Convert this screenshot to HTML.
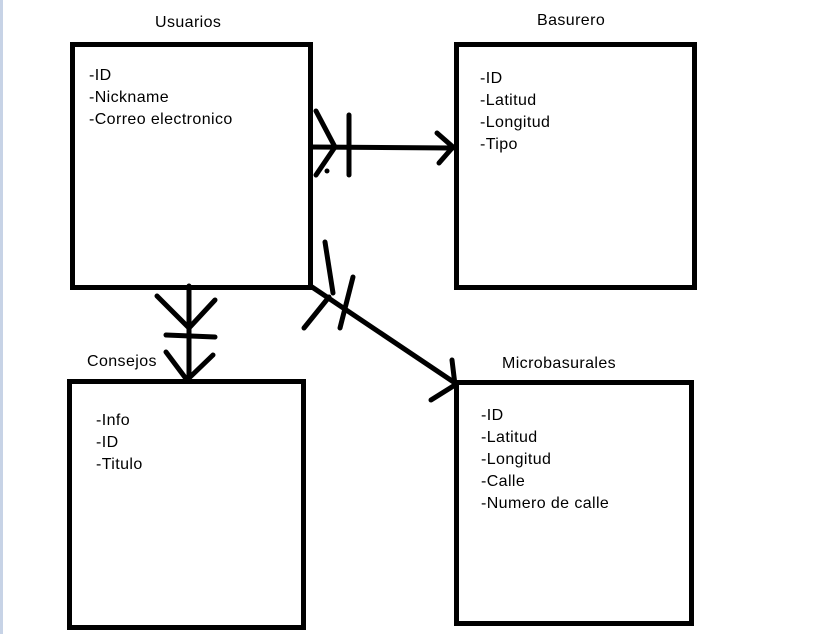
<!DOCTYPE html>
<html><head><meta charset="utf-8"><style>
html,body{margin:0;padding:0;background:#fff;width:817px;height:634px;overflow:hidden}
svg text{font-family:"Liberation Sans",sans-serif;font-size:16px;letter-spacing:0.4px;fill:#000}
</style></head><body>
<svg width="817" height="634" xmlns="http://www.w3.org/2000/svg">
<rect x="0" y="0" width="3" height="634" fill="#c7d3e6"/>
<g fill="none" stroke="#000" stroke-width="5" stroke-linecap="round" stroke-linejoin="round">
<rect x="72.5" y="44.5" width="238" height="243" stroke-linecap="butt" stroke-linejoin="miter"/>
<rect x="456.5" y="44.5" width="238" height="243" stroke-linecap="butt" stroke-linejoin="miter"/>
<rect x="69.5" y="381.5" width="234" height="246" stroke-linecap="butt" stroke-linejoin="miter"/>
<rect x="456.5" y="382.5" width="235" height="241" stroke-linecap="butt" stroke-linejoin="miter"/>
<line x1="311" y1="147" x2="453" y2="148"/>
<polyline points="316,111 335,147 316,175"/>
<line x1="349" y1="115" x2="349" y2="175"/>
<polyline points="437,133 453,147 439,163"/>
<line x1="189" y1="286" x2="189" y2="380"/>
<polyline points="157,296 189,328 215,300"/>
<line x1="166" y1="335" x2="215" y2="337"/>
<polyline points="166,352 187,380 213,355"/>
<line x1="312" y1="287" x2="455" y2="383"/>
<line x1="325" y1="242" x2="333" y2="293"/>
<line x1="304" y1="328" x2="329" y2="297"/>
<line x1="353" y1="277" x2="340" y2="328"/>
<line x1="452" y1="360" x2="455" y2="385"/>
<line x1="431" y1="400" x2="455" y2="385"/>
</g>
<circle cx="327" cy="171" r="2.5" fill="#000"/>
<text x="155" y="27">Usuarios</text>
<text x="89" y="80">-ID</text>
<text x="89" y="102">-Nickname</text>
<text x="89" y="124">-Correo electronico</text>
<text x="537" y="25">Basurero</text>
<text x="480" y="83">-ID</text>
<text x="480" y="105">-Latitud</text>
<text x="480" y="127">-Longitud</text>
<text x="480" y="149">-Tipo</text>
<text x="87" y="366">Consejos</text>
<text x="96" y="425">-Info</text>
<text x="96" y="447">-ID</text>
<text x="96" y="469">-Titulo</text>
<text x="502" y="368">Microbasurales</text>
<text x="481" y="420">-ID</text>
<text x="481" y="442">-Latitud</text>
<text x="481" y="464">-Longitud</text>
<text x="481" y="486">-Calle</text>
<text x="481" y="508">-Numero de calle</text>
</svg>
</body></html>
